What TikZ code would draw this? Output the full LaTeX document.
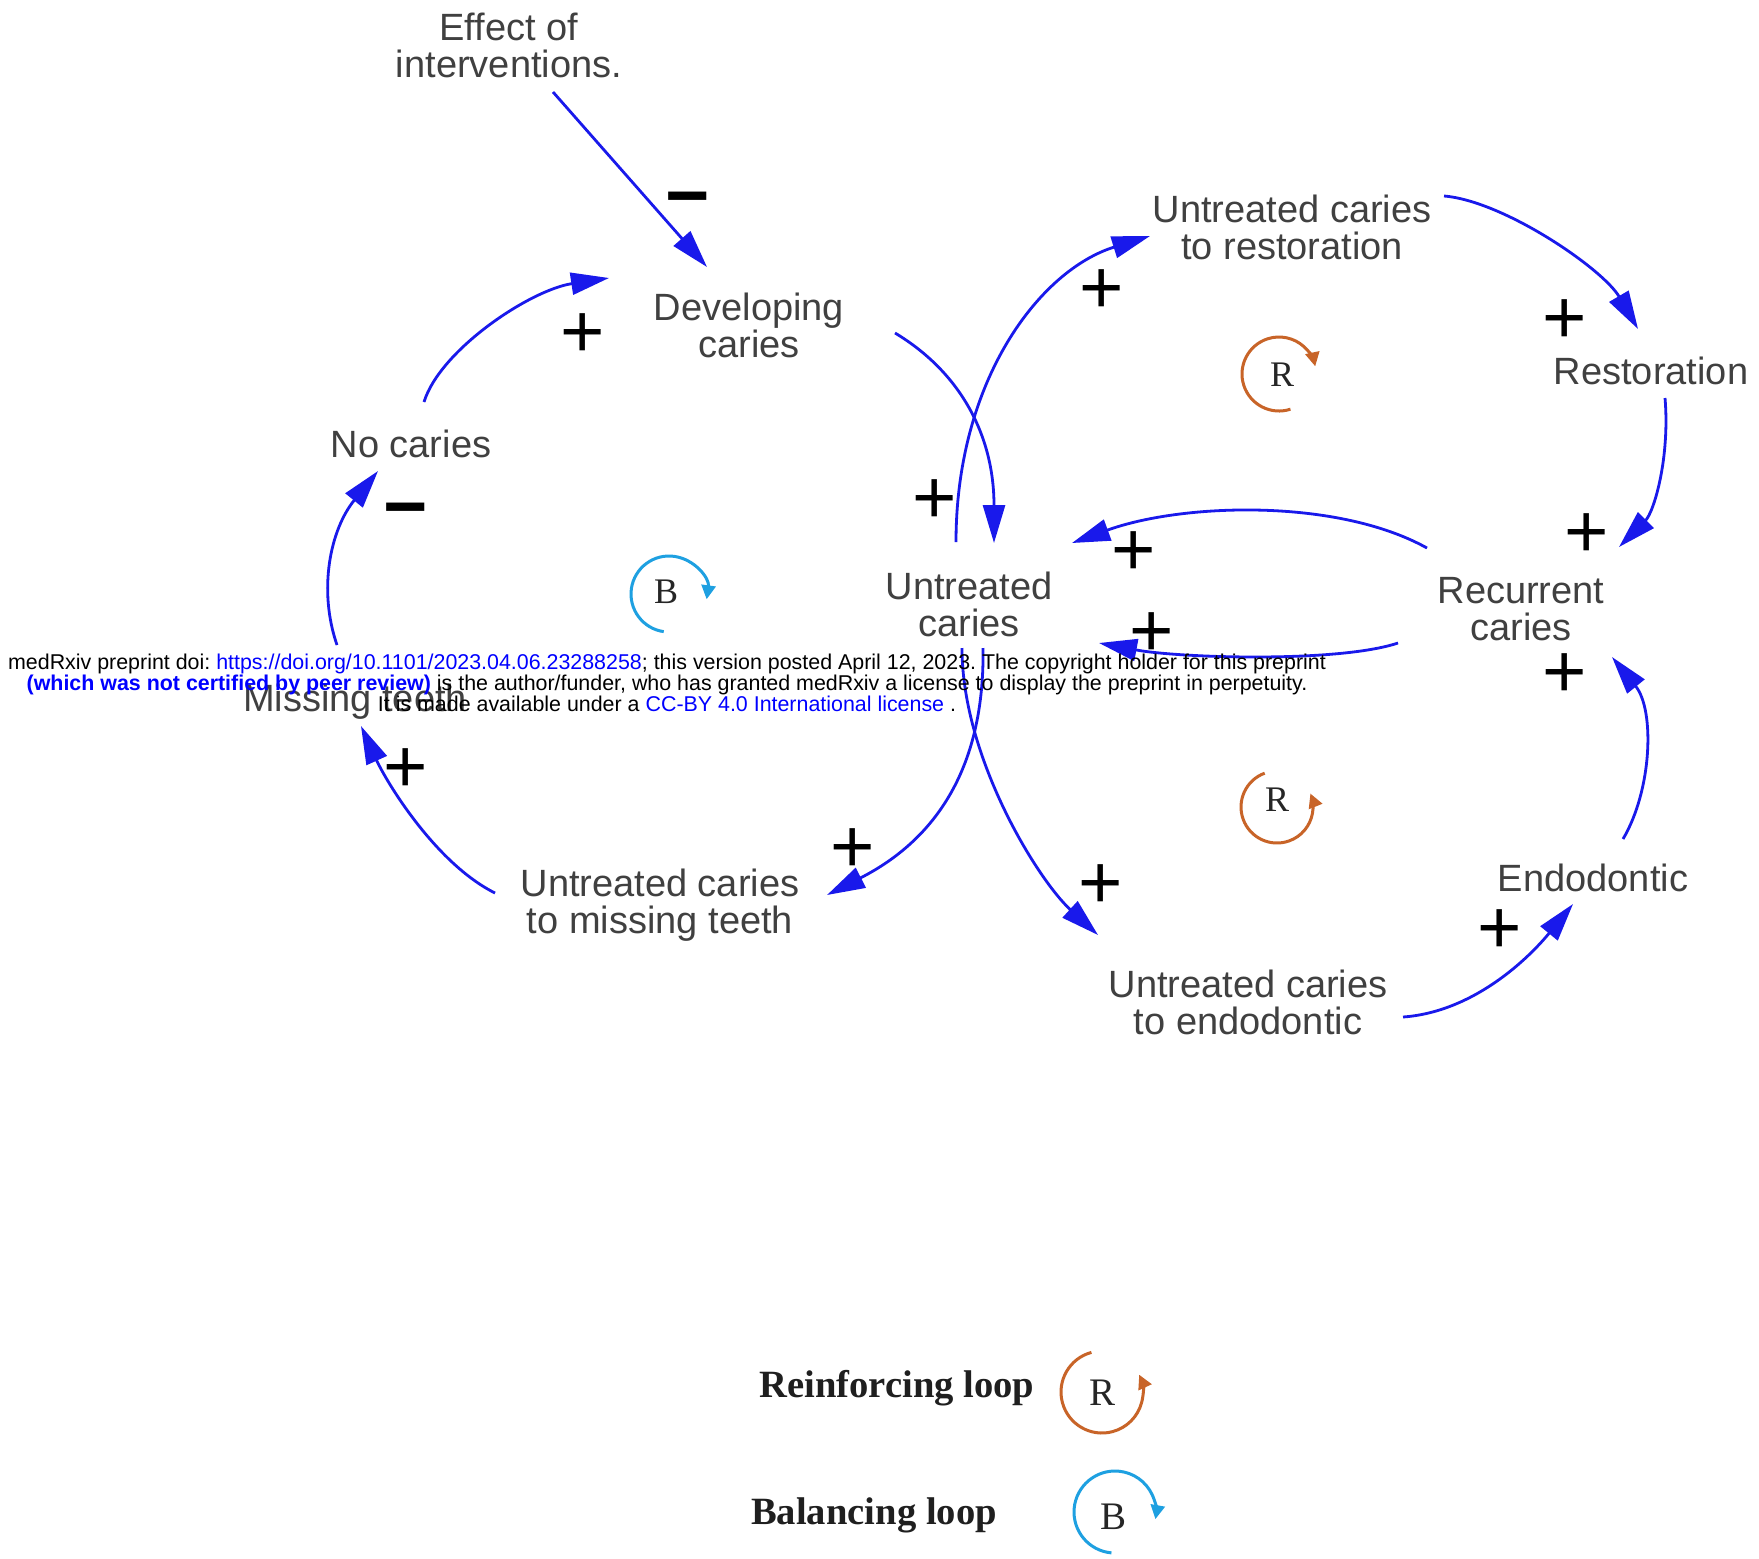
\documentclass[tikz,border=0pt]{standalone}
\usepackage{fontspec}
\setmainfont{Liberation Sans}
\newfontfamily\serifface{Liberation Serif}
\usetikzlibrary{arrows.meta,calc}
\definecolor{arrblue}{RGB}{25,25,235}
\definecolor{lblue}{RGB}{30,160,225}
\definecolor{rorange}{RGB}{200,100,40}
\definecolor{txtgray}{RGB}{64,64,64}
\definecolor{wmblue}{RGB}{0,0,255}
\begin{document}
\frenchspacing
\begin{tikzpicture}[x=0.5pt,y=-0.5pt,
  lbl/.style={font=\fontsize{19}{18.5}\selectfont, text=txtgray, align=center, inner sep=0pt},
  sgn/.style={font=\fontsize{38}{38}\selectfont, text=black, inner sep=0pt, text height=26.2pt, text depth=0pt},
  msgn/.style={sgn, font=\fontsize{38}{38}\selectfont\bfseries},
  arr/.style={draw=arrblue, line width=1.4pt, -{Triangle[length=19pt,width=11pt]}},
  loopB/.style={draw=lblue, line width=1.5pt, -{Triangle[length=7pt,width=7pt]}},
  loopR/.style={draw=rorange, line width=1.5pt, -{Triangle[length=7pt,width=7pt]}},
  looptxt/.style={font=\serifface\fontsize{18}{18}\selectfont, text=black!85, inner sep=0pt},
  legtxt/.style={font=\serifface\bfseries\fontsize{19.3}{19.3}\selectfont, text=black!88, inner sep=0pt},
  wm/.style={font=\fontsize{10.7}{10.65}\selectfont, text=black, align=center, inner sep=0pt}]
\fill[white] (0,0) rectangle (1759,1558);
\useasboundingbox (0,0) rectangle (1759,1558);

% variables
\node[lbl] (eff) at (509,45) {Effect of\\interventions.};
\node[lbl] (dev) at (749,325) {Developing\\caries};
\node[lbl] (nocar) at (411,444) {No caries};
\node[lbl] (miss) at (355,702) {Missing teeth};
\node[lbl] (unt) at (969,604) {Untreated\\caries};
\node[lbl] (utr) at (1292,227) {Untreated caries\\to restoration};
\node[lbl] (rest) at (1651,371) {Restoration};
\node[lbl] (rec) at (1521,609) {Recurrent\\caries};
\node[lbl] (endo) at (1593,878) {Endodontic};
\node[lbl] (ute) at (1248,1002) {Untreated caries\\to endodontic};
\node[lbl] (utm) at (660,905) {Untreated caries\\to missing teeth};

% connectors
\draw[arr] ($(eff)+(44,47)$) -- ($(dev)+(-42,-58)$);
\draw[arr] ($(nocar)+(13,-42)$) .. controls +(16,-52) and +(-79,12) .. ($(dev)+(-140,-47)$);
\draw[arr] ($(dev)+(146,8)$) .. controls +(65,39) and +(0,-108) .. ($(unt)+(25,-61)$);
\draw[arr] ($(unt)+(-13,-62)$) .. controls +(0,-162) and +(-110,34) .. ($(utr)+(-142,9)$);
\draw[arr] ($(utr)+(152,-31)$) .. controls +(60,5) and +(-35,-60) .. ($(rest)+(-13,-42)$);
\draw[arr] ($(rest)+(14,27)$) .. controls +(5,60) and +(35,-35) .. ($(rec)+(98,-62)$);
\draw[arr] ($(rec)+(-94,-61)$) .. controls +(-90,-50) and +(110,-40) .. ($(unt)+(103,-61)$);
\draw[arr] ($(rec)+(-123,34)$) .. controls +(-60,20) and +(80,15) .. ($(unt)+(130,39)$);
\draw[arr] ($(unt)+(14,44)$) .. controls +(2,132) and +(98,-50) .. ($(utm)+(167,-10)$);
\draw[arr] ($(unt)+(-7,44)$) .. controls +(0,110) and +(-60,-55) .. ($(ute)+(-150,-67)$);
\draw[arr] ($(ute)+(155,15)$) .. controls +(70,-5) and +(-45,55) .. ($(endo)+(-20,26)$);
\draw[arr] ($(endo)+(30,-39)$) .. controls +(29,-49) and +(43,53) .. ($(rec)+(91,48)$);
\draw[arr] ($(utm)+(-165,-12)$) .. controls +(-60,-30) and +(25,55) .. ($(miss)+(6,24)$);
\draw[arr] ($(miss)+(-18,-57)$) .. controls +(-19,-55) and +(-48,59) .. ($(nocar)+(-33,27)$);

% polarity signs
\node[msgn] (s1) at (688,195) {−};
\node[sgn] (s2) at (583,331) {+};
\node[sgn] (s3) at (935,497) {+};
\node[sgn] (s4) at (1102,287) {+};
\node[sgn] (s5) at (1565,317) {+};
\node[sgn] (s6) at (1587,531) {+};
\node[sgn] (s7) at (1134,549) {+};
\node[sgn] (s8) at (1152,630) {+};
\node[sgn] (s9) at (1565,671) {+};
\node[sgn] (s10) at (1500,927) {+};
\node[sgn] (s11) at (1101,882) {+};
\node[sgn] (s12) at (853,846) {+};
\node[sgn] (s13) at (406,766) {+};
\node[msgn] (s14) at (406,506) {−};

% loop markers
\begin{scope}[shift={(669,594)},x=0.5pt,y=0.5pt]
  \draw[loopB] (262:38) arc[start angle=262,end angle=-8,radius=38];
  \node[looptxt] (b1) at (-3,2) {B};
\end{scope}
\begin{scope}[shift={(1279,374)},x=0.5pt,y=0.5pt]
  \draw[loopR] (-72:37) arc[start angle=-72,end angle=-348,radius=37];
  \node[looptxt] (r1) at (3,-1) {R};
\end{scope}
\begin{scope}[shift={(1277,807)},x=0.5pt,y=0.5pt]
  \draw[loopR] (110:36) arc[start angle=110,end angle=382,radius=36];
  \node[looptxt] (r2) at (0,7) {R};
\end{scope}

% legend
\node[legtxt] (legR) at (897,1388) {Reinforcing loop};
\node[legtxt] (legB) at (874,1515) {Balancing loop};
\begin{scope}[shift={(1102,1392)},x=0.5pt,y=0.5pt]
  \draw[loopR] (105:41) arc[start angle=105,end angle=385,radius=41];
  \node[looptxt,font=\serifface\fontsize{19.5}{19.5}\selectfont] (r3) at (0,-1) {R};
\end{scope}
\begin{scope}[shift={(1115,1512)},x=0.5pt,y=0.5pt]
  \draw[loopB] (265:41) arc[start angle=265,end angle=-10,radius=41];
  \node[looptxt,font=\serifface\fontsize{19.5}{19.5}\selectfont] (b2) at (-2,-5) {B};
\end{scope}

% preprint watermark
\node[wm] (wmk) at (667,683) {medRxiv preprint doi: \textcolor{wmblue}{https://doi.org/10.1101/2023.04.06.23288258}; this version posted April 12, 2023. The copyright holder for this preprint\\
\textcolor{wmblue}{\bfseries (which was not certified by peer review)} is the author/funder, who has granted medRxiv a license to display the preprint in perpetuity.\\
It is made available under a \textcolor{wmblue}{CC-BY 4.0 International license} .};
\end{tikzpicture}
\end{document}
